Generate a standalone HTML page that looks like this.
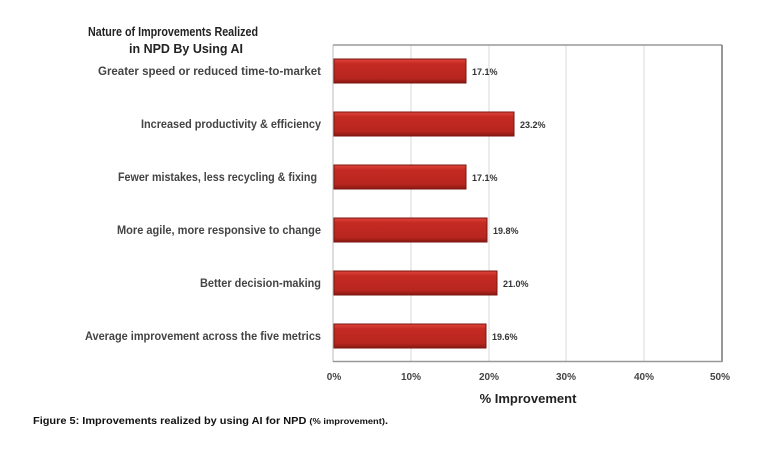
<!DOCTYPE html>
<html><head><style>
body{margin:0;background:#fff;width:768px;height:453px;overflow:hidden;font-family:"Liberation Sans",sans-serif;}
</style></head><body>
<svg width="768" height="453" xmlns="http://www.w3.org/2000/svg" font-family="Liberation Sans, sans-serif">
<defs>
<linearGradient id="g" x1="0" y1="0" x2="0" y2="1">
<stop offset="0" stop-color="#e0463c"/><stop offset="0.2" stop-color="#c42a22"/><stop offset="0.8" stop-color="#b8261f"/><stop offset="1" stop-color="#8a1812"/>
</linearGradient>
</defs>
<text x="88" y="36" font-size="13" font-weight="bold" fill="#222" textLength="170" lengthAdjust="spacingAndGlyphs">Nature of Improvements Realized</text>
<text x="129" y="53" font-size="13" font-weight="bold" fill="#222" textLength="114" lengthAdjust="spacingAndGlyphs">in NPD By Using AI</text>
<g stroke="#d9d9d9" stroke-width="1">
<line x1="411" y1="45" x2="411" y2="361"/><line x1="489" y1="45" x2="489" y2="361"/>
<line x1="566" y1="45" x2="566" y2="361"/><line x1="644" y1="45" x2="644" y2="361"/>
</g>
<line x1="333" y1="45" x2="722" y2="45" stroke="#999" stroke-width="1.5"/>
<line x1="722" y1="45" x2="722" y2="362" stroke="#777" stroke-width="1.5"/>
<line x1="333" y1="45" x2="333" y2="362" stroke="#bbb" stroke-width="1"/>
<line x1="333" y1="361.5" x2="722" y2="361.5" stroke="#999" stroke-width="1.5"/>
<g stroke="#7a1510" stroke-width="1">
<rect x="334" y="59" width="132" height="24" fill="url(#g)"/>
<rect x="334" y="112" width="180" height="24" fill="url(#g)"/>
<rect x="334" y="165" width="132" height="24" fill="url(#g)"/>
<rect x="334" y="218" width="153" height="24" fill="url(#g)"/>
<rect x="334" y="271" width="163" height="24" fill="url(#g)"/>
<rect x="334" y="324" width="152" height="24" fill="url(#g)"/>
</g>
<g font-size="9" font-weight="bold" fill="#333">
<text x="472" y="75">17.1%</text><text x="520" y="128">23.2%</text>
<text x="472" y="181">17.1%</text><text x="493" y="234">19.8%</text>
<text x="503" y="287">21.0%</text><text x="492" y="340">19.6%</text>
</g>
<g font-size="12" font-weight="bold" fill="#444" lengthAdjust="spacingAndGlyphs">
<text x="98" y="75" textLength="223" lengthAdjust="spacingAndGlyphs">Greater speed  or reduced time-to-market</text>
<text x="141" y="128" textLength="180" lengthAdjust="spacingAndGlyphs">Increased productivity &amp; efficiency</text>
<text x="118" y="181" textLength="199" lengthAdjust="spacingAndGlyphs">Fewer mistakes, less recycling &amp; fixing</text>
<text x="117" y="234" textLength="204" lengthAdjust="spacingAndGlyphs">More agile, more responsive to change</text>
<text x="200" y="287" textLength="121" lengthAdjust="spacingAndGlyphs">Better decision-making</text>
<text x="85" y="340" textLength="236" lengthAdjust="spacingAndGlyphs">Average improvement across the five metrics</text>
</g>
<g font-size="10" font-weight="bold" fill="#444" text-anchor="middle">
<text x="334" y="380">0%</text><text x="411" y="380">10%</text><text x="489" y="380">20%</text>
<text x="566" y="380">30%</text><text x="644" y="380">40%</text><text x="720" y="380">50%</text>
</g>
<text x="528" y="403" text-anchor="middle" font-size="13" font-weight="bold" fill="#222">% Improvement</text>
<text x="33" y="424" font-size="10" font-weight="bold" fill="#111" textLength="355" lengthAdjust="spacingAndGlyphs">Figure 5: Improvements realized by using AI for NPD <tspan font-size="8.5">(% improvement)</tspan>.</text>
</svg>
</body></html>
